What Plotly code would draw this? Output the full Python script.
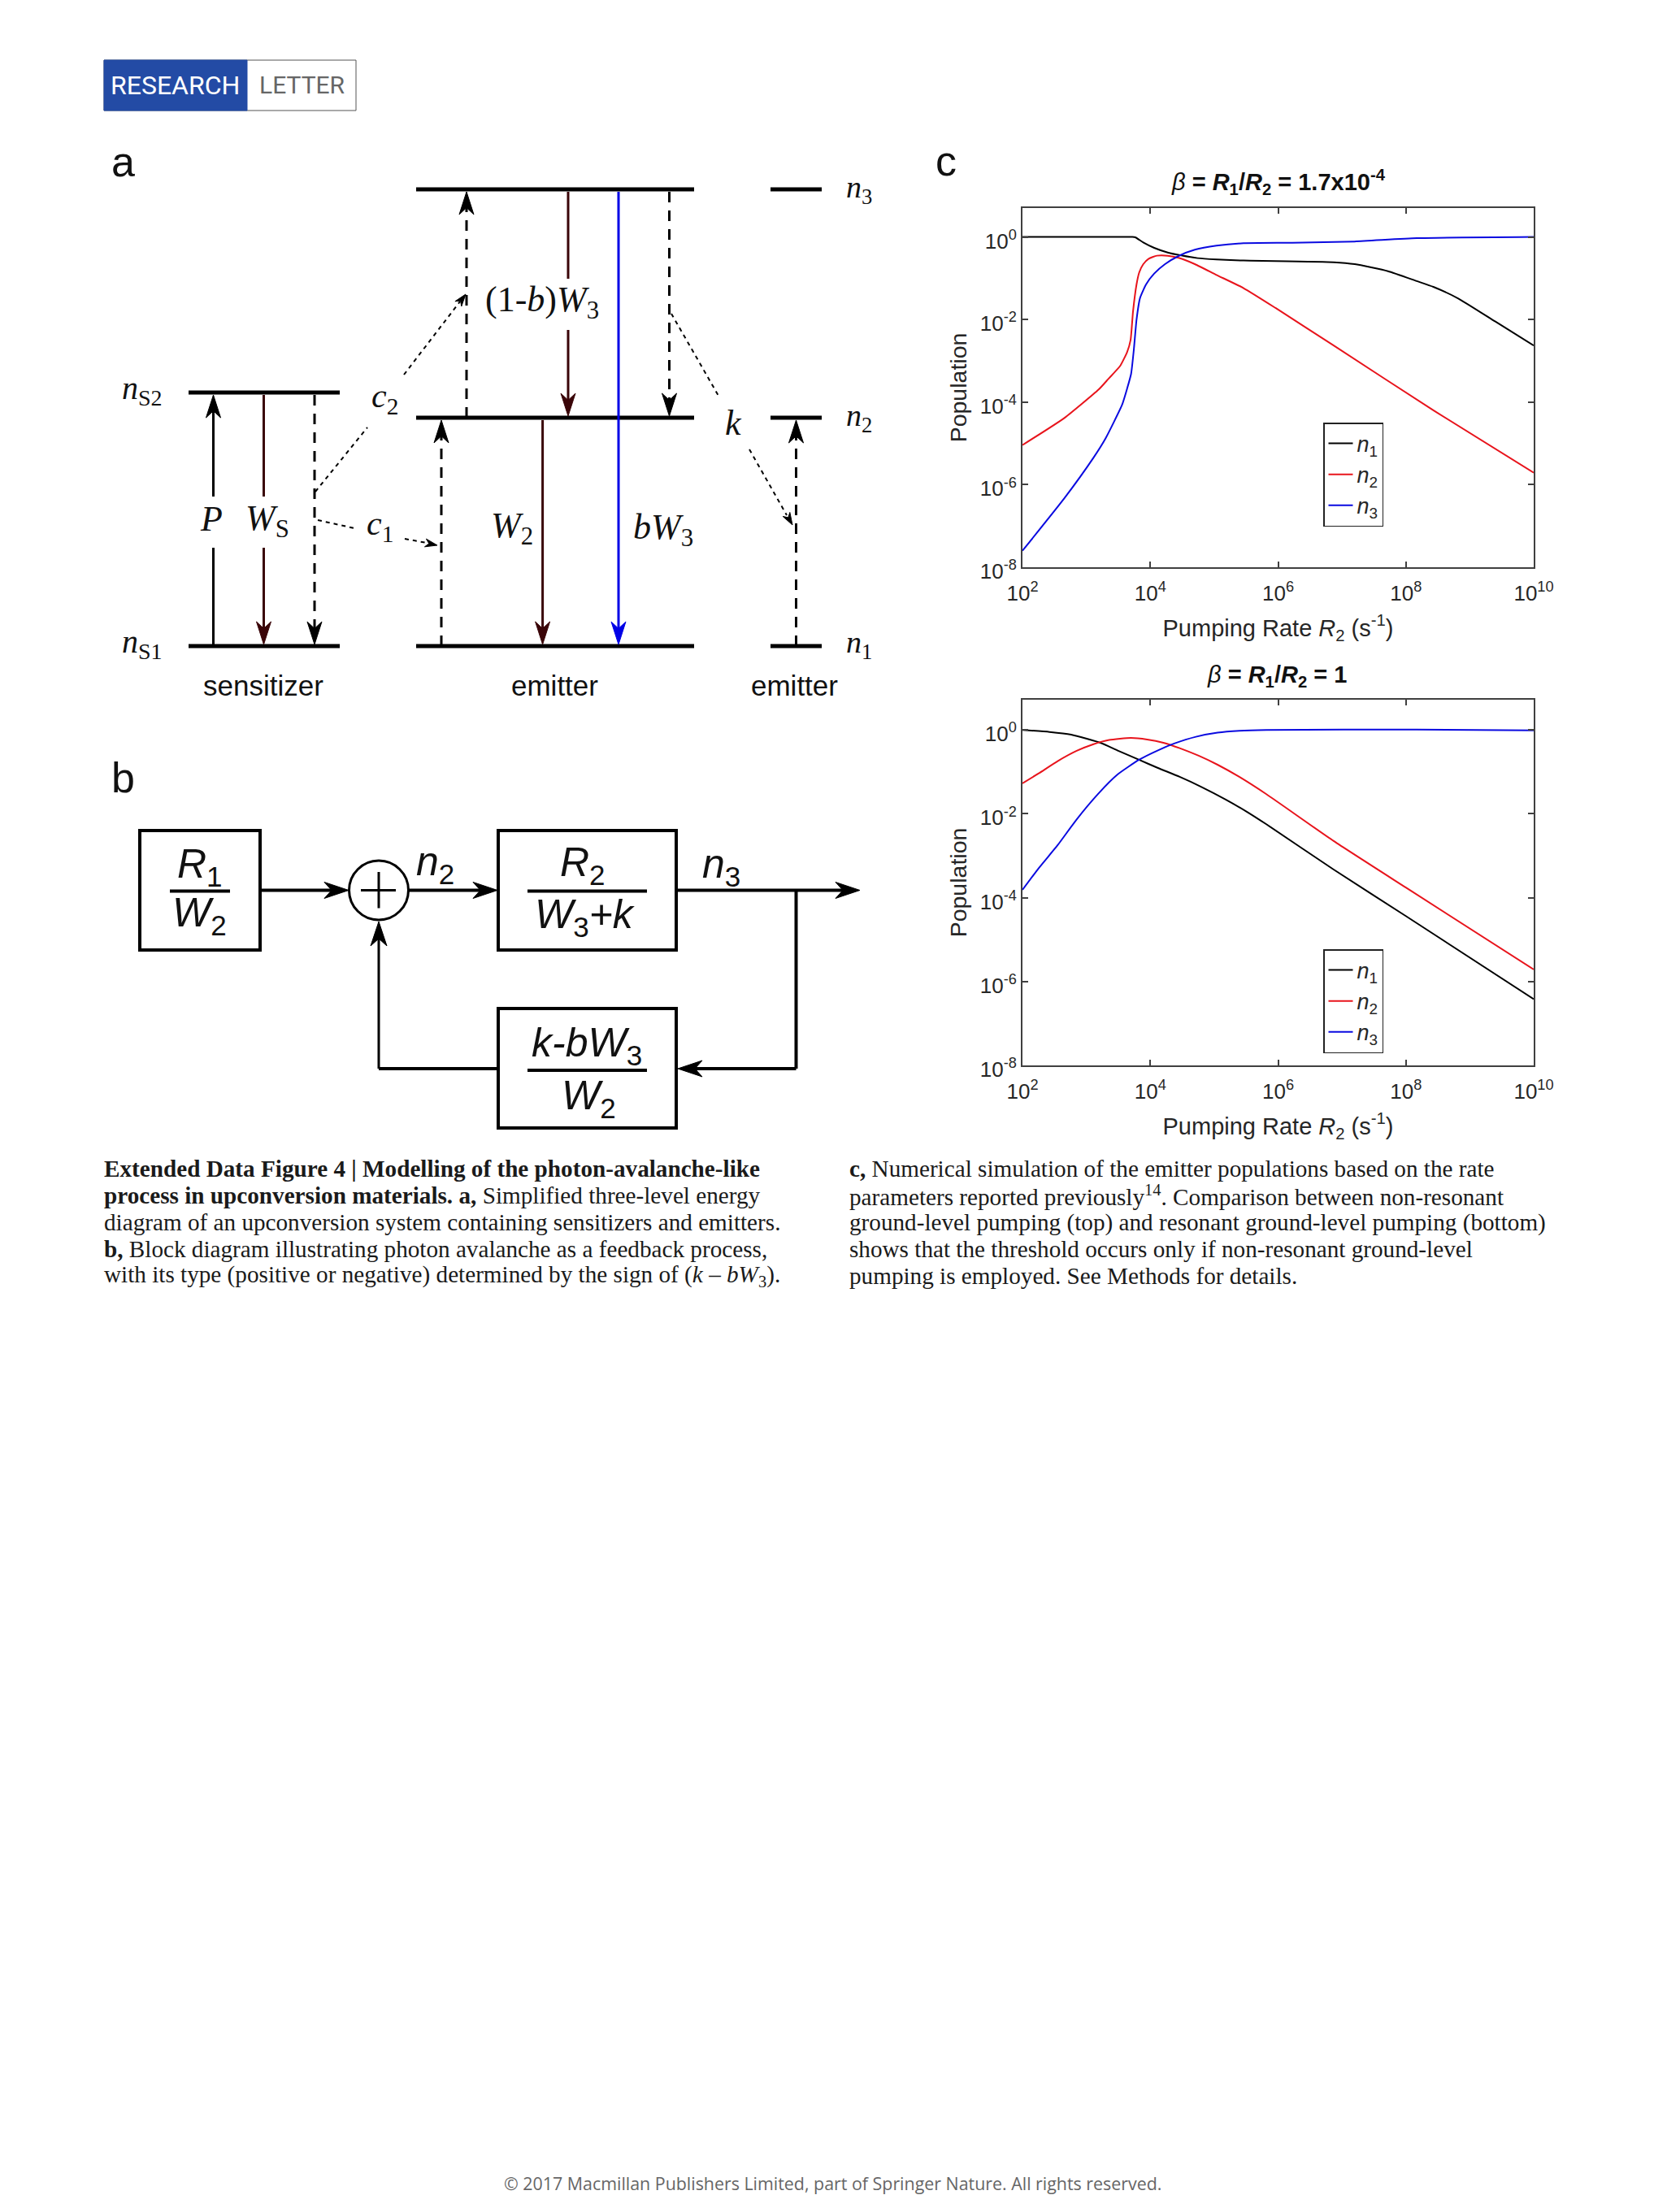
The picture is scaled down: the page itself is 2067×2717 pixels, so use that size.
import plotly.graph_objects as go

W, H = 2067, 2717

# ---- data: top panel (beta = 1.7e-4) as (log10 R2, log10 population)
top_n1_logx = [2, 3, 3.72, 3.764, 3.891, 4.061, 4.273, 4.485, 4.74, 5.036, 5.46, 6.87, 7.2, 7.72, 8.17, 8.43, 8.82, 9.4, 10]
top_n1_logy = [0, 0, 0, -0.008, -0.133, -0.264, -0.376, -0.448, -0.513, -0.546, -0.572, -0.613, -0.66, -0.83, -1.07, -1.21, -1.49, -2.05, -2.63]
top_n2_logx = [2, 2.66, 3.192, 3.34, 3.531, 3.637, 3.692, 3.73, 3.785, 3.828, 3.891, 3.976, 4.103, 4.273, 4.443, 4.697, 5.036, 5.46, 5.96, 6.87, 8.43, 10]
top_n2_logy = [-5.04, -4.38, -3.696, -3.446, -3.118, -2.79, -2.495, -1.806, -1.15, -0.855, -0.658, -0.526, -0.454, -0.454, -0.507, -0.658, -0.92, -1.24, -1.72, -2.63, -4.2, -5.71]
top_n3_logx = [2, 2.66, 3.11, 3.3, 3.56, 3.637, 3.7, 3.743, 3.785, 3.84, 3.934, 4.061, 4.231, 4.443, 4.697, 5.036, 5.46, 6.22, 7.2, 8.17, 10]
top_n3_logy = [-7.6, -6.32, -5.35, -4.88, -4.06, -3.676, -3.315, -2.725, -2.003, -1.478, -1.15, -0.887, -0.658, -0.461, -0.31, -0.212, -0.152, -0.14, -0.11, -0.03, 0]

# ---- data: bottom panel (beta = 1)
bot_n1_logx = [2, 2.424, 2.763, 3.018, 3.23, 3.484, 3.824, 4.12, 4.46, 4.8, 5.18, 5.52, 5.817, 6.87, 8, 10]
bot_n1_logy = [-0.002, -0.048, -0.112, -0.215, -0.312, -0.487, -0.713, -0.907, -1.12, -1.359, -1.66, -1.96, -2.25, -3.33, -4.44, -6.42]
bot_n2_logx = [2, 2.254, 2.551, 2.848, 3.103, 3.357, 3.696, 3.951, 4.205, 4.46, 4.757, 5.053, 5.393, 5.817, 6.87, 8, 10]
bot_n2_logy = [-1.275, -1.036, -0.745, -0.5, -0.345, -0.241, -0.19, -0.228, -0.306, -0.435, -0.616, -0.83, -1.12, -1.533, -2.65, -3.76, -5.71]
bot_n3_logx = [2, 2.254, 2.551, 2.848, 3.187, 3.484, 3.824, 4.12, 4.375, 4.714, 5.053, 5.393, 5.817, 8.17, 10]
bot_n3_logy = [-3.814, -3.297, -2.748, -2.134, -1.52, -1.068, -0.713, -0.487, -0.325, -0.164, -0.067, -0.022, -0.002, 0.01, -0.01]

x_ticks = [2, 4, 6, 8, 10]
y_ticks = [0, -2, -4, -6, -8]
series_names = ["<i>n</i><sub>1</sub>", "<i>n</i><sub>2</sub>", "<i>n</i><sub>3</sub>"]
series_colors = ["#000000", "#e8141c", "#0a0ae0"]

caption_left = [
    "<b>Extended Data Figure 4 | Modelling of the photon-avalanche-like</b>",
    "<b>process in upconversion materials. a,</b> Simplified three-level energy",
    "diagram of an upconversion system containing sensitizers and emitters.",
    "<b>b,</b> Block diagram illustrating photon avalanche as a feedback process,",
    "with its type (positive or negative) determined by the sign of (<i>k</i> – <i>bW</i><sub>3</sub>).",
]
caption_right = [
    "<b>c,</b> Numerical simulation of the emitter populations based on the rate",
    "parameters reported previously<sup>14</sup>. Comparison between non-resonant",
    "ground-level pumping (top) and resonant ground-level pumping (bottom)",
    "shows that the threshold occurs only if non-resonant ground-level",
    "pumping is employed. See Methods for details.",
]

SANS = "Liberation Sans, Arial, sans-serif"
SERIF = "Liberation Serif, Times New Roman, serif"
DARK = "#3a0508"
BLUE = "#0000e6"
TXT = "#262626"

def px(x): return x / W
def py(y): return 1 - y / H

shapes, annos = [], []

def line(x0, y0, x1, y1, color="black", w=3, dash=None):
    shapes.append(dict(type="line", xref="paper", yref="paper", x0=px(x0), y0=py(y0), x1=px(x1), y1=py(y1),
                       line=dict(color=color, width=w, dash=dash or "solid")))

def rect(x0, y0, x1, y1, color="black", w=3, fill="rgba(0,0,0,0)"):
    shapes.append(dict(type="rect", xref="paper", yref="paper", x0=px(x0), y0=py(y0), x1=px(x1), y1=py(y1),
                       line=dict(color=color, width=w), fillcolor=fill))

def head(x, y, dx, dy, color="black", L=28, hw=9):
    nx, ny = -dy, dx
    pts = [(x, y), (x - dx*L + nx*hw, y - dy*L + ny*hw), (x - dx*L*0.7, y - dy*L*0.7), (x - dx*L - nx*hw, y - dy*L - ny*hw)]
    path = "M " + " L ".join(f"{px(a):.5f},{py(b):.5f}" for a, b in pts) + " Z"
    shapes.append(dict(type="path", xref="paper", yref="paper", path=path, fillcolor=color, line=dict(color=color, width=1)))

def T(x, y, text, size, family=SANS, color=TXT, anchor="center", angle=0):
    annos.append(dict(xref="paper", yref="paper", x=px(x), y=py(y), text=text, showarrow=False, xanchor=anchor,
                      yanchor="middle", align="left" if anchor == "left" else "center", textangle=angle,
                      font=dict(size=size, family=family, color=color)))

# ---- header badge
rect(128, 74, 438, 136, color="#555555", w=1, fill="white")
rect(128, 74, 304, 136, color="#234ba5", w=1, fill="#234ba5")
T(215, 105, "RESEARCH", 32, "Roboto, sans-serif", "white")
T(371, 105, "LETTER", 30, "Roboto, sans-serif", "#666666")

# ---- panel letters
T(151, 199, "a", 52, color="#111111")
T(151, 957, "b", 52, color="#111111")
T(1164, 198, "c", 52, color="#111111")

# ---- panel a: levels
for y in (483, 795):
    line(232, y, 418, y, w=5)
for y in (233, 514, 795):
    line(512, y, 854, y, w=5)
    line(948, y, 1011, y, w=5)

D = "13px,10px"
# sensitizer transitions
line(262.5, 795, 262.5, 674, w=3); line(262.5, 611, 262.5, 500, w=3); head(262.5, 486, 0, -1)
line(324.5, 486, 324.5, 611, DARK, 3); line(324.5, 674, 324.5, 775, DARK, 3); head(324.5, 793, 0, 1, DARK)
line(387, 486, 387, 775, w=3, dash=D); head(387, 793, 0, 1)
# emitter transitions
line(574, 514, 574, 250, w=3, dash=D); head(574, 236, 0, -1)
line(699, 236, 699, 343, DARK, 3); line(699, 406, 699, 495, DARK, 3); head(699, 512, 0, 1, DARK)
line(761, 236, 761, 775, BLUE, 3); head(761, 793, 0, 1, BLUE)
line(823.5, 236, 823.5, 495, w=3, dash=D); head(823.5, 512, 0, 1)
line(667.6, 517, 667.6, 775, DARK, 3); head(667.6, 793, 0, 1, DARK)
line(543, 795, 543, 532, w=3, dash=D); head(543, 517, 0, -1)
line(979.5, 795, 979.5, 532, w=3, dash=D); head(979.5, 517, 0, -1)
# dotted transfer paths
O = "5px,5px"
line(388, 605, 452, 526, w=2, dash=O)
line(497, 461, 566, 371, w=2, dash=O); head(573, 362, 0.61, -0.79, L=15, hw=5)
line(391, 640, 436, 650, w=2, dash=O)
line(498, 663, 525, 668, w=2, dash=O); head(538, 671, 0.97, 0.2, L=15, hw=5)
line(826, 386, 884, 487, w=2, dash=O)
line(922, 553, 968, 634, w=2, dash=O); head(975, 646, 0.5, 0.87, L=15, hw=5)

# panel a text
def it(s): return f"<i>{s}</i>"
def sub(s): return f"<sub>{s}</sub>"
T(175, 480, it("n") + sub("S2"), 40, SERIF, "#111111")
T(175, 792, it("n") + sub("S1"), 40, SERIF, "#111111")
T(1057, 233, it("n") + sub("3"), 38, SERIF, "#111111")
T(1057, 514, it("n") + sub("2"), 38, SERIF, "#111111")
T(1057, 793, it("n") + sub("1"), 38, SERIF, "#111111")
T(260, 638, it("P"), 44, SERIF, "#111111")
T(329, 640, it("W") + sub("S"), 44, SERIF, "#111111")
T(473, 490, it("c") + sub("2"), 42, SERIF, "#111111")
T(467, 647, it("c") + sub("1"), 42, SERIF, "#111111")
T(667, 372, "(1-" + it("b") + ")" + it("W") + sub("3"), 44, SERIF, "#111111")
T(630, 649, it("W") + sub("2"), 44, SERIF, "#111111")
T(816, 651, it("bW") + sub("3"), 44, SERIF, "#111111")
T(902, 520, it("k"), 44, SERIF, "#111111")
T(324, 844, "sensitizer", 35, SANS, "#111111")
T(682, 844, "emitter", 35, SANS, "#111111")
T(977, 844, "emitter", 35, SANS, "#111111")

# ---- panel b: block diagram
rect(172, 1022, 320, 1169, w=4)
rect(613, 1022, 832, 1169, w=4)
rect(613, 1241, 832, 1388, w=4)
shapes.append(dict(type="circle", xref="paper", yref="paper", x0=px(429.5), y0=py(1059), x1=px(502.5), y1=py(1132),
                   line=dict(color="black", width=3)))
line(444, 1095.5, 487, 1095.5, w=3); line(466, 1073, 466, 1117.5, w=3)
line(209, 1096.5, 283, 1096.5, w=4); line(649, 1096.5, 796, 1096.5, w=4); line(649, 1317, 796, 1317, w=4)
line(320, 1095.5, 415, 1095.5, w=4); head(429, 1095.5, 1, 0, L=30, hw=10)
line(502.5, 1095.5, 598, 1095.5, w=4); head(612, 1095.5, 1, 0, L=30, hw=10)
line(832, 1095.5, 1040, 1095.5, w=4); head(1058, 1095.5, 1, 0, L=30, hw=10)
line(979.5, 1095.5, 979.5, 1315, w=4)
line(979.5, 1315, 848, 1315, w=4); head(834, 1315, -1, 0, L=30, hw=10)
line(613, 1315, 466, 1315, w=4); line(466, 1315, 466, 1148, w=3); head(466, 1134, 0, -1, L=30, hw=10)

F = 50
T(246, 1066, it("R") + sub("1"), F, color="#111111")
T(245, 1126, it("W") + sub("2"), F, color="#111111")
T(535, 1063, it("n") + sub("2"), F, color="#111111")
T(717, 1064, it("R") + sub("2"), F, color="#111111")
T(720, 1128, it("W") + sub("3") + it("+k"), F, color="#111111")
T(887, 1066, it("n") + sub("3"), F, color="#111111")
T(722, 1287, it("k-bW") + sub("3"), F, color="#111111")
T(724, 1352, it("W") + sub("2"), F, color="#111111")

# ---- captions
cap_y = [1438, 1471, 1504, 1537, 1570]
for y, s in zip(cap_y, caption_left):
    T(126, y, s, 29.2, SERIF, "#1a1a1a", anchor="left")
for y, s in zip(cap_y, caption_right):
    T(1043, y, s, 29.2, SERIF, "#1a1a1a", anchor="left")
T(1024, 2686, "© 2017 Macmillan Publishers Limited, part of Springer Nature. All rights reserved.", 21.4,
  "Open Sans, sans-serif", "#666666")

# ---- panel c titles
T(1573, 224, "<i>β</i><b> = <i>R</i><sub>1</sub>/<i>R</i><sub>2</sub> = 1.7x10<sup>-4</sup></b>", 29, SANS, "#111111")
T(1571, 832, "<i>β</i><b> = <i>R</i><sub>1</sub>/<i>R</i><sub>2</sub> = 1</b>", 29, SANS, "#111111")

fig = go.Figure()
panels = [
    ("x", "y", "legend", [(top_n1_logx, top_n1_logy), (top_n2_logx, top_n2_logy), (top_n3_logx, top_n3_logy)]),
    ("x2", "y2", "legend2", [(bot_n1_logx, bot_n1_logy), (bot_n2_logx, bot_n2_logy), (bot_n3_logx, bot_n3_logy)]),
]
for xa, ya, leg, curves in panels:
    for (lx, ly), name, col in zip(curves, series_names, series_colors):
        fig.add_trace(go.Scatter(x=[10.0**v for v in lx], y=[10.0**v for v in ly], mode="lines", name=name,
                                 line=dict(color=col, width=2, shape="spline", smoothing=0.5),
                                 xaxis=xa, yaxis=ya, legend=leg))

def xaxis(anchor):
    return dict(type="log", range=[2, 10], domain=[px(1258), px(1887)], anchor=anchor, mirror="ticks", showline=True,
                linecolor="#404040", linewidth=2, ticks="inside", ticklen=7, tickwidth=1.5, tickcolor="#404040",
                showgrid=False, zeroline=False, automargin=False, tickvals=[10.0**v for v in x_ticks],
                ticktext=[f"10<sup>{v}</sup>" for v in x_ticks], tickangle=0, ticklabelstandoff=8,
                tickfont=dict(size=26, family=SANS, color=TXT),
                title=dict(text="Pumping Rate <i>R</i><sub>2</sub> (s<sup>-1</sup>)", standoff=18,
                           font=dict(size=29, family=SANS, color=TXT)))

def yaxis(anchor, top, y0, y1):
    return dict(type="log", range=[-8, top], domain=[py(y1), py(y0)], anchor=anchor, mirror="ticks", showline=True,
                linecolor="#404040", linewidth=2, ticks="inside", ticklen=7, tickwidth=1.5, tickcolor="#404040",
                showgrid=False, zeroline=False, automargin=False, tickvals=[10.0**v for v in y_ticks],
                ticktext=[f"10<sup>{v}</sup>" for v in y_ticks], ticklabelshift=5,
                tickfont=dict(size=26, family=SANS, color=TXT),
                title=dict(text="Population", standoff=8, font=dict(size=28.5, family=SANS, color=TXT)))

def legend(x0, y0):
    return dict(x=px(x0), y=py(y0), xanchor="left", yanchor="top", bgcolor="white", bordercolor="#222222",
                borderwidth=1.5, font=dict(size=27, family=SANS, color=TXT), tracegroupgap=0, itemwidth=30)

fig.update_layout(
    width=W, height=H, autosize=False, margin=dict(l=0, r=0, t=0, b=0), paper_bgcolor="white", plot_bgcolor="white",
    showlegend=True, shapes=shapes, annotations=annos,
    xaxis=xaxis("y"), yaxis=yaxis("x", 0.7, 256, 698),
    xaxis2=xaxis("y2"), yaxis2=yaxis("x2", 0.72, 861, 1311),
    legend=legend(1628, 520), legend2=legend(1628, 1168),
)
fig.write_html("out.html", post_script="document.body.style.margin='0';", config={"displayModeBar": False})
